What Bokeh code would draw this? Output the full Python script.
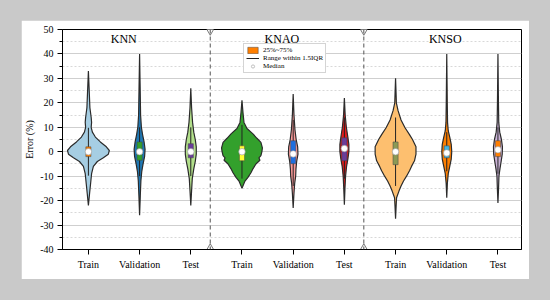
import numpy as np
from bokeh.plotting import figure
from bokeh.models import Range1d, FixedTicker, Span, Label, Legend, LegendItem
from bokeh.embed import file_html
from bokeh.resources import INLINE

# ---------------- data ----------------
groups = ["KNN", "KNAO", "KNSO"]
splits = ["Train", "Validation", "Test"]
positions = [1, 2, 3, 4, 5, 6, 7, 8, 9]
dividers = [3.38, 6.38]

fill_colors = ["#a6cee3", "#1f78b4", "#b2df8a",
               "#33a02c", "#fb9a99", "#e31a1c",
               "#fdbf6f", "#ff7f00", "#cab2d6"]
box_colors = ["#ff7f00", "#33a02c", "#6a3d9a",
              "#ffff33", "#1f6fe0", "#6a3d9a",
              "#8c9a55", "#41b6e6", "#ff7f00"]

# violin outlines: error levels (%) and half-widths (relative)
violin_y = [
    [33, 25, 18, 14, 12, 10, 8, 6, 4, 2, 0.5, -1, -2.5, -4, -6, -9, -13, -17, -22],
    [40, 25, 15, 10, 7, 4, 1, -2, -5, -8, -12, -18, -26],
    [26, 18, 12, 8, 5, 2, -1, -4, -7, -11, -16, -22],
    [21, 16, 12, 9.5, 7.3, 5.5, 3.8, 1.6, 0, -1.6, -2.5, -3.5, -5, -7, -8.6, -10.5, -12, -15],
    [23.6, 15, 9, 5, 2, -1, -4, -7, -10, -13, -17, -23],
    [22, 15, 10, 6, 3, 0, -3, -6, -10, -15, -21.7],
    [30, 24, 20, 16.8, 13, 9.8, 7, 5, 2, -1, -3.7, -6, -7.8, -10, -12, -14, -16, -18.8, -22, -27.4],
    [40, 20, 12, 8.6, 6, 3, 0, -3, -6, -9, -13, -18.8],
    [40, 20, 12, 8, 5, 2, -1, -4, -7, -10, -15, -21],
]
violin_w = [
    [0, 0.8, 1.5, 2.8, 3.2, 2.8, 4, 7, 12, 18, 21, 20, 15, 9, 5, 3.2, 2.2, 1.2, 0],
    [0, 0.6, 1, 1.8, 3, 4.5, 5.5, 5, 3.5, 2.2, 1.3, 0.7, 0],
    [0, 0.8, 1.8, 3, 4.5, 5.5, 5.5, 4.5, 3, 1.5, 0.8, 0],
    [0, 1, 2, 5, 11, 15, 19, 20.5, 20, 19, 17, 18, 14, 11, 9, 6, 3, 0],
    [0, 0.8, 1.8, 3, 4.5, 4.8, 3.5, 2.8, 2.5, 1.5, 0.8, 0],
    [0, 0.8, 2, 3.5, 4.5, 4.5, 3.5, 2.2, 1.2, 0.6, 0],
    [0, 0.5, 0.8, 2.5, 5.5, 9.5, 14, 17, 20.5, 20.5, 19, 16, 14, 11, 8, 5.5, 3.5, 1, 0.6, 0],
    [0, 0.5, 0.8, 1.5, 3, 4.5, 5, 4.5, 3, 1.5, 0.6, 0],
    [0, 0.5, 0.8, 1.8, 3.5, 4.5, 4.3, 3.2, 2, 1, 0.6, 0],
]

q1 = [-2, -3.5, -2.5, -3.7, -4.9, -3.7, -5.3, -2.5, -2]
q3 = [2, 4, 3.3, 2.4, 4.5, 5.7, 4, 2.4, 4.5]
medians = [0, 0, 0, 0, -0.9, 1.3, 0, -0.5, 0.8]
whisk_lo = [-9.8, -10, -10, -11, -14, -11, -14, -8, -9]
whisk_hi = [9.8, 10, 10, 11, 13, 14, 14, 8, 10]

y_ticks = [-40, -30, -20, -10, 0, 10, 20, 30, 40, 50]

# ---------------- figure ----------------
FONT = "Liberation Serif"
WSCALE = 1 / 51.4

p = figure(width=508, height=259,
           x_range=Range1d(0.494, 9.46), y_range=Range1d(-40, 50),
           output_backend="svg", toolbar_location=None,
           min_border_left=39, min_border_right=8,
           min_border_top=9, min_border_bottom=30,
           background_fill_color="white", border_fill_color="white",
           outline_line_color="black", outline_line_width=1)
p.margin = (20, 0, 0, 21)

p.xgrid.visible = False
p.ygrid.grid_line_color = "#cfcfcf"
p.ygrid.grid_line_width = 1.2
p.ygrid.minor_grid_line_color = "#d8d8d8"
p.ygrid.minor_grid_line_dash = "2 2"

p.xaxis.ticker = FixedTicker(ticks=positions)
p.xaxis.major_label_overrides = {pos: splits[i % 3] for i, pos in enumerate(positions)}
p.yaxis.ticker = FixedTicker(ticks=y_ticks, minor_ticks=[t + 5 for t in y_ticks[:-1]])
p.yaxis.major_label_overrides = {t: str(t) for t in y_ticks}
p.yaxis.axis_label = "Error (%)"

for ax in (p.xaxis[0], p.yaxis[0]):
    ax.axis_line_color = "black"
    ax.major_tick_line_color = "black"
    ax.minor_tick_line_color = "black"
    ax.major_tick_out = 5
    ax.major_tick_in = 0
    ax.minor_tick_out = 3
    ax.minor_tick_in = 0
    ax.major_label_text_font = FONT
    ax.major_label_text_font_size = "10px"
    ax.major_label_text_color = "black"
    ax.major_label_standoff = 4
    ax.axis_label_text_font = FONT
    ax.axis_label_text_font_size = "10px"
    ax.axis_label_text_font_style = "normal"
    ax.axis_label_text_color = "black"
    ax.axis_label_standoff = 2
p.xaxis.minor_tick_line_color = None

# dividers
for d in dividers:
    p.add_layout(Span(location=d, dimension="height", line_color="#555555",
                      line_dash="4 3", line_width=1))
p.scatter(x=dividers, y=[50] * len(dividers), marker="inverted_triangle", size=10,
          fill_color="white", line_color="#555555", line_width=0.8)
p.scatter(x=dividers, y=[-40] * len(dividers), marker="triangle", size=10,
          fill_color="white", line_color="#555555", line_width=0.8)

# violins
xs, ys = [], []
for c, yv, wv in zip(positions, violin_y, violin_w):
    right = [c + w * WSCALE for w in wv]
    left = [c - w * WSCALE for w in wv][::-1]
    xs.append(right + left)
    ys.append(list(yv) + list(yv)[::-1])
p.patches(xs=xs, ys=ys, fill_color=fill_colors, line_color="#2b2b2b", line_width=1.2)

# whiskers
r_wh = p.segment(x0=positions, y0=whisk_lo, x1=positions, y1=whisk_hi,
                 line_color="#222222", line_width=1)
# boxes
r_box = p.quad(left=[c - 0.05 for c in positions], right=[c + 0.05 for c in positions],
               bottom=q1, top=q3, fill_color=box_colors, line_color="#444444", line_width=0.5)
# medians
r_med = p.scatter(x=positions, y=medians, marker="circle", size=6.5,
                  fill_color="white", line_color="#999999", line_width=0.6)

# group titles
for gx, name in zip([1.69, 4.78, 7.97], groups):
    p.add_layout(Label(x=gx, y=46.3, text=name, text_font=FONT, text_font_size="12px",
                       text_align="center", text_baseline="middle", text_color="black"))

# legend
legend = Legend(items=[LegendItem(label="25%~75%", renderers=[r_box], index=0),
                       LegendItem(label="Range within 1.5IQR", renderers=[r_wh], index=0),
                       LegendItem(label="Median", renderers=[r_med], index=0)],
                location=(181, 176),
                label_text_font=FONT, label_text_font_size="7px", label_text_color="black",
                label_height=8, glyph_height=8, glyph_width=13,
                spacing=0, padding=2, margin=0, label_standoff=4,
                border_line_color="#aaaaaa", border_line_width=1,
                background_fill_color="white", background_fill_alpha=1)
p.add_layout(legend)

html = file_html(p, INLINE)
html = html.replace("</head>", "<style>body{background:#c9c9c9;}</style></head>", 1)
open("out.html", "w").write(html)
